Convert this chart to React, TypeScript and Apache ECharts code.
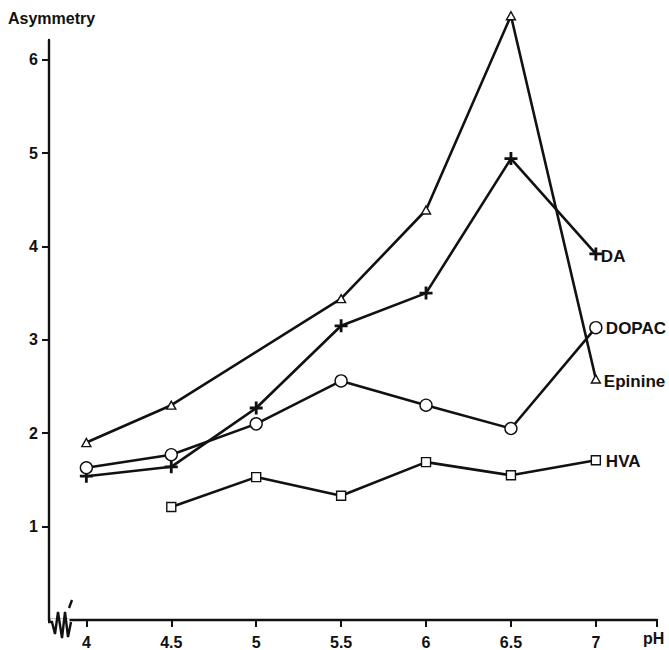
import React, { useEffect, useRef } from "react";
import * as echarts from "echarts";

const xTicks = [4, 4.5, 5, 5.5, 6, 6.5, 7];
const yTicks = [1, 2, 3, 4, 5, 6];

const epininePH = [4, 4.5, 5.5, 6, 6.5, 7];
const epinineVals = [1.9, 2.3, 3.44, 4.39, 6.47, 2.58];

const daPH = [4, 4.5, 5, 5.5, 6, 6.5, 7];
const daVals = [1.54, 1.64, 2.27, 3.15, 3.5, 4.94, 3.92];

const dopacPH = [4, 4.5, 5, 5.5, 6, 6.5, 7];
const dopacVals = [1.63, 1.77, 2.1, 2.56, 2.3, 2.05, 3.13];

const hvaPH = [4.5, 5, 5.5, 6, 6.5, 7];
const hvaVals = [1.21, 1.53, 1.33, 1.69, 1.55, 1.71];

const FONT = "Liberation Sans, Arial, sans-serif";
const plusPath =
  "path://M-1.3,-6 H1.3 V-1.3 H6 V1.3 H1.3 V6 H-1.3 V1.3 H-6 V-1.3 H-1.3 Z";

function pairs(xs: number[], ys: number[]) {
  return xs.map((x, i) => [x, ys[i]]);
}

export default function App() {
  const ref = useRef<HTMLDivElement>(null);
  useEffect(() => {
    if (!ref.current) return;
    const chart = echarts.init(ref.current, null, { renderer: "svg" });
    const labelStyle = {
      show: true,
      formatter: "{a}",
      fontFamily: FONT,
      fontWeight: "bold" as const,
      fontSize: 17,
      color: "#111",
      distance: 6,
    };
    const lineStyle = { color: "#111", width: 2.6 };
    const hollow = { color: "#fff", borderColor: "#111", borderWidth: 1.4 };
    chart.setOption({
      animation: false,
      backgroundColor: "#fff",
      grid: { left: 49, right: 12, top: 40, bottom: 28, containLabel: false },
      xAxis: {
        type: "value",
        min: 3.78,
        max: 7.36,
        splitLine: { show: false },
        axisLine: { show: true, onZero: false, lineStyle: { color: "#111", width: 2.4 } },
        axisTick: {
          show: true,
          length: 7,
          inside: false,
          customValues: [...xTicks, 7.36],
          lineStyle: { color: "#111", width: 2 },
        },
        axisLabel: {
          customValues: xTicks,
          margin: 14,
          fontFamily: FONT,
          fontWeight: "bold",
          fontSize: 16,
          color: "#111",
          formatter: (v: number) => String(v),
        },
      },
      yAxis: {
        type: "value",
        min: 0,
        max: 6.21,
        splitLine: { show: false },
        axisLine: { show: true, lineStyle: { color: "#111", width: 2.4 } },
        axisTick: {
          show: true,
          length: 7,
          customValues: yTicks,
          lineStyle: { color: "#111", width: 2 },
        },
        axisLabel: {
          customValues: yTicks,
          margin: 11,
          fontFamily: FONT,
          fontWeight: "bold",
          fontSize: 16,
          color: "#111",
        },
      },
      series: [
        {
          name: "Epinine",
          type: "line",
          data: pairs(epininePH, epinineVals),
          symbol: "triangle",
          symbolSize: [9, 8],
          showAllSymbol: true,
          clip: false,
          lineStyle,
          itemStyle: hollow,
          endLabel: { ...labelStyle, offset: [2, 2] },
          z: 3,
        },
        {
          name: "DA",
          type: "line",
          data: pairs(daPH, daVals),
          symbol: plusPath,
          symbolSize: 13,
          showAllSymbol: true,
          clip: false,
          lineStyle,
          itemStyle: { color: "#111", borderWidth: 0 },
          endLabel: { ...labelStyle, distance: 5, offset: [0, 3] },
          z: 4,
        },
        {
          name: "DOPAC",
          type: "line",
          data: pairs(dopacPH, dopacVals),
          symbol: "circle",
          symbolSize: 12,
          showAllSymbol: true,
          clip: false,
          lineStyle,
          itemStyle: hollow,
          endLabel: { ...labelStyle, distance: 10, offset: [0, 1] },
          z: 5,
        },
        {
          name: "HVA",
          type: "line",
          data: pairs(hvaPH, hvaVals),
          symbol: "rect",
          symbolSize: 9,
          showAllSymbol: true,
          clip: false,
          lineStyle,
          itemStyle: hollow,
          endLabel: { ...labelStyle, distance: 10, offset: [0, 1] },
          z: 6,
        },
      ],
      graphic: [
        {
          type: "text",
          left: 8,
          top: 10,
          z: 100,
          style: {
            text: "Asymmetry",
            fontFamily: FONT,
            fontWeight: "bold",
            fontSize: 16,
            fill: "#111",
          },
        },
        {
          type: "text",
          left: 643,
          top: 630,
          z: 100,
          style: {
            text: "pH",
            fontFamily: FONT,
            fontWeight: "bold",
            fontSize: 16,
            fill: "#111",
          },
        },
        {
          type: "rect",
          z: 100,
          shape: { x: 50.5, y: 619, width: 19, height: 6 },
          style: { fill: "#fff" },
        },
        {
          type: "polyline",
          z: 101,
          shape: {
            points: [
              [48, 622],
              [52, 622],
              [55, 634],
              [58, 612],
              [62, 638],
              [65, 612],
              [68, 637],
              [71, 622],
            ],
          },
          style: { stroke: "#111", lineWidth: 2.4, fill: "none" },
        },
        {
          type: "line",
          z: 101,
          shape: { x1: 72, y1: 600, x2: 69, y2: 608 },
          style: { stroke: "#111", lineWidth: 2.4 },
        },
      ],
    });
    return () => chart.dispose();
  }, []);
  return (
    <div
      ref={ref}
      style={{ position: "fixed", left: 0, top: 0, width: 669, height: 650 }}
    />
  );
}
